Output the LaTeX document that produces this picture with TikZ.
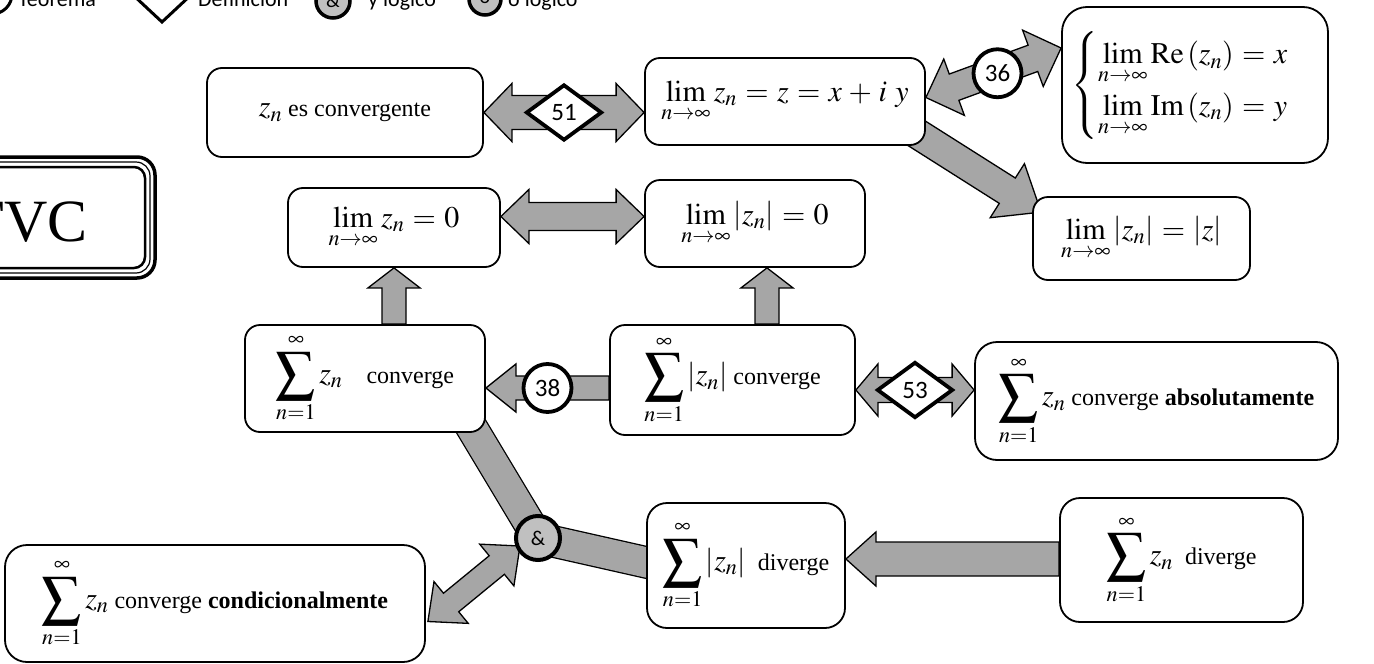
\documentclass[tikz,border=0pt]{standalone}
\usepackage{amsmath}
\usepackage{mathptmx}
\usepackage{graphicx}
\usepackage[no-math]{fontspec}
\setmainfont{Liberation Serif}
\newfontfamily\carl{Carlito}
\usetikzlibrary{shapes.geometric,calc}
\thickmuskip=5mu plus 2mu
\medmuskip=4mu plus 2mu
\newcommand{\Sum}{\mathop{\vcenter{\hbox{\scalebox{1.3}{$\displaystyle\sum$}}}}\limits}
\newcommand{\M}[1]{{\fontsize{30}{36}\selectfont$\displaystyle #1$}}
\definecolor{agray}{RGB}{166,166,166}
\definecolor{lgray}{RGB}{192,192,192}
\pgfdeclarelayer{bg}
\pgfsetlayers{bg,main}
\newcommand{\SArr}[5]{%
  \path (#1) coordinate (aT) (#2) coordinate (aH);
  \path ($(aH)!#5!(aT)$) coordinate (aC);
  \draw[arrowstyle] ($(aT)!#3!90:(aH)$) -- ($(aC)!#3!-90:(aT)$) -- ($(aC)!#4!-90:(aT)$) -- (aH) -- ($(aC)!#4!90:(aT)$) -- ($(aC)!#3!90:(aT)$) -- ($(aT)!#3!-90:(aH)$) -- cycle;
}
\newcommand{\DArr}[5]{%
  \path (#1) coordinate (aT) (#2) coordinate (aH);
  \path ($(aH)!#5!(aT)$) coordinate (aC) ($(aT)!#5!(aH)$) coordinate (aD);
  \draw[arrowstyle] (aT) -- ($(aD)!#4!90:(aH)$) -- ($(aD)!#3!90:(aH)$) -- ($(aC)!#3!-90:(aT)$) -- ($(aC)!#4!-90:(aT)$) -- (aH) -- ($(aC)!#4!90:(aT)$) -- ($(aC)!#3!90:(aT)$) -- ($(aD)!#3!-90:(aH)$) -- ($(aD)!#4!-90:(aH)$) -- cycle;
}
\tikzset{
 box/.style={draw, line width=1.8pt, rounded corners=15pt, fill=white, inner sep=0pt, align=center, font=\fontsize{24}{29}\selectfont},
 arrowstyle/.style={draw, line width=1.3pt, fill=agray, line join=miter},
 band/.style={draw=black, line width=1.3pt, double=agray, double distance=30pt},
 numcirc/.style={circle, draw, line width=3.8pt, fill=white, minimum size=48pt, inner sep=0pt, font=\carl\fontsize{25}{25}\selectfont},
 numdiam/.style={diamond, draw, line width=3.8pt, fill=white, minimum width=76pt, minimum height=56pt, inner sep=0pt, font=\carl\fontsize{25}{25}\selectfont},
 legtext/.style={anchor=base west, inner sep=0pt, font=\carl\fontsize{22}{22}\selectfont},
}
\begin{document}
\begin{tikzpicture}[x=1pt,y=-1pt]
\useasboundingbox (0,0) rectangle (1374,664);
\begin{pgfonlayer}{bg}
\fill[white] (0,0) rectangle (1374,664);
\end{pgfonlayer}
\clip (0,0) rectangle (1374,664);
% legend (cut at top)
\draw[line width=3pt, fill=white] (-8,-6) circle (20);
\node[legtext] (lt1) at (18,6) {Teorema};
\draw[line width=3pt, fill=white] (117,-20) -- (162,22) -- (207,-20) -- (162,-62) -- cycle;
\node[legtext] (lt2) at (198,6) {Definición};
\node[circle, draw, line width=3.5pt, fill=lgray, minimum size=34pt, inner sep=0pt, font=\carl\fontsize{20}{20}\selectfont] (lc1) at (333,1) {\&};
\node[legtext] (lt3) at (368,6) {y lógico};
\node[circle, draw, line width=3.5pt, fill=lgray, minimum size=32pt, inner sep=0pt, font=\carl\fontsize{20}{20}\selectfont] (lc2) at (485,-1) {o};
\node[legtext] (lt4) at (508,6) {o lógico};
% TVC
\draw[line width=3.5pt, rounded corners=18pt] (-99,157) rectangle (155,278);
\draw[line width=1.2pt, rounded corners=14pt] (-95,162) rectangle (150,273);
\draw[line width=2.5pt, rounded corners=11pt] (-90,167) rectangle (145,268);
\node[font=\fontsize{60}{60}\selectfont, inner sep=0pt] (tvc) at (28,222) {TVC};
% boxes
\node[box, minimum width=276pt, minimum height=89pt] (nA) at (345,112.5) {\M{z_n} es convergente};
\node[box, minimum width=280pt, minimum height=87pt] (nB) at (785,101.5) {\M{\lim_{n\to\infty} z_n = z = x + i\;y}};
\node[box, rounded corners=25pt, minimum width=266pt, minimum height=156pt] (nC) at (1195,85) {\M{\begin{cases}\displaystyle\lim_{n\to\infty}\mathrm{Re}\left(z_n\right)=x\\[4pt] \displaystyle\lim_{n\to\infty}\mathrm{Im}\left(z_n\right)=y\end{cases}}};
\node[box, minimum width=217pt, minimum height=83pt] (nD) at (1141.5,238.5) {\M{\lim_{n\to\infty}\left|z_n\right|=\left|z\right|}};
\node[box, minimum width=212pt, minimum height=79pt] (nE) at (394,227.5) {\M{\lim_{n\to\infty} z_n = 0}};
\node[box, minimum width=220pt, minimum height=87pt] (nF) at (755,223.5) {\M{\lim_{n\to\infty}\left|z_n\right| = 0}};
\node[box, minimum width=240pt, minimum height=107pt] (nG) at (365,378.5) {\M{\Sum_{n=1}^{\infty} z_n}\quad converge};
\node[box, minimum width=245pt, minimum height=110pt] (nH) at (732.5,380) {\M{\Sum_{n=1}^{\infty}\left|z_n\right|} converge};
\node[box, rounded corners=22pt, minimum width=363pt, minimum height=118pt] (nI) at (1156.5,401) {\M{\Sum_{n=1}^{\infty} z_n} converge \textbf{absolutamente}};
\node[box, rounded corners=20pt, minimum width=198pt, minimum height=125pt] (nJ) at (746,565.5) {\M{\Sum_{n=1}^{\infty}\left|z_n\right|}\enspace diverge};
\node[box, rounded corners=20pt, minimum width=243pt, minimum height=124pt] (nK) at (1181.5,560) {\M{\Sum_{n=1}^{\infty} z_n}\enspace diverge};
\node[box, rounded corners=22pt, minimum width=420pt, minimum height=117pt] (nL) at (215,603.5) {\M{\Sum_{n=1}^{\infty} z_n} converge \textbf{condicionalmente}};
% logic node
\node[circle, draw, line width=4pt, fill=lgray, minimum size=44pt, inner sep=0pt, font=\carl\fontsize{21}{21}\selectfont] (nAnd) at (538,538) {\&};
% helper coordinates
\coordinate (ab2) at (nA.east -| nB.west);
\coordinate (ef1) at ($(nE.east)+(0,-11)$);
\coordinate (ef2) at (ef1 -| nF.west);
\coordinate (ge1) at (nE.south |- nG.north);
\coordinate (hf2) at ($(nF.south)+(12,0)$);
\coordinate (hf1) at (hf2 |- nH.north);
\coordinate (h38) at ($(nH.west)+(0,8)$);
\coordinate (g38) at (h38 -| nG.east);
\coordinate (h53) at ($(nH.east)+(0,10)$);
\coordinate (i53) at (h53 -| nI.west);
\coordinate (kj1) at ($(nK.west)+(0,-1)$);
\coordinate (kj2) at (kj1 -| nJ.east);
\begin{pgfonlayer}{bg}
\DArr{nA.east}{ab2}{17pt}{29pt}{28pt}
\DArr{$(nB.east)+(0,-4)$}{$(nC.west)+(0,-37)$}{14pt}{30pt}{30pt}
\SArr{$(nB.south east)+(-13,-15)$}{$(nD.north west)+(9,16)$}{15pt}{32pt}{40pt}
\DArr{ef1}{ef2}{14pt}{27pt}{28pt}
\SArr{ge1}{nE.south}{12pt}{26pt}{20pt}
\SArr{hf1}{hf2}{12pt}{26pt}{20pt}
\SArr{h38}{g38}{12pt}{24pt}{30pt}
\DArr{h53}{i53}{12.5pt}{26pt}{22pt}
\SArr{kj1}{kj2}{17pt}{27pt}{30pt}
\DArr{$(nL.east)+(2,18)$}{$(nAnd.center)+(-18,8)$}{12pt}{27pt}{30pt}
\draw[band] ($(nG.south east)+(-17,-10)$) -- (nAnd.center);
\draw[band] (nAnd.center) -- ($(nJ.west)+(5,-2)$);
\end{pgfonlayer}
% labels on connectors
\node[numdiam] (d51) at ($(nA.east)!0.5!(ab2)$) {51};
\node[numcirc] (c36) at ($(nB.east)!0.5!(nC.west)+(4,-20)$) {36};
\node[numcirc] (c38) at ($(h38)!0.5!(g38)$) {38};
\node[numdiam] (d53) at ($(h53)!0.5!(i53)$) {53};
\end{tikzpicture}
\end{document}
